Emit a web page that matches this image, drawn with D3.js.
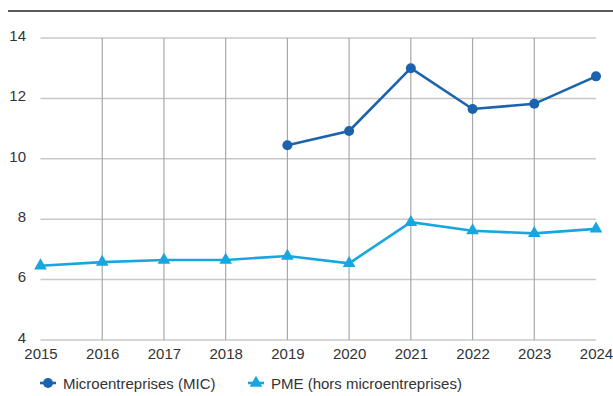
<!DOCTYPE html>
<html>
<head>
<meta charset="utf-8">
<script src="https://cdn.jsdelivr.net/npm/d3@7"></script>
<style>
  html, body { margin: 0; padding: 0; background: #fff; }
  svg { display: block; font-family: "Liberation Sans", Arial, sans-serif; }
</style>
</head>
<body>
<svg id="chart" width="613" height="396"></svg>
<script>
// Années et séries (en %)
const years = [2015, 2016, 2017, 2018, 2019, 2020, 2021, 2022, 2023, 2024];
const micValues = [null, null, null, null, 10.45, 10.92, 13.0, 11.65, 11.82, 12.73];
const pmeValues = [6.46, 6.58, 6.65, 6.65, 6.78, 6.54, 7.9, 7.62, 7.53, 7.68];
const yTicks = [4, 6, 8, 10, 12, 14];
const seriesNames = ["Microentreprises (MIC)", "PME (hors microentreprises)"];

const svg = d3.select("#chart");
const margin = { left: 40.5, right: 17, top: 38, bottom: 56 };
const W = 613, H = 396;
const fontSize = 15;

const x = d3.scaleLinear().domain([2015, 2024]).range([margin.left, W - margin.right]);
const y = d3.scaleLinear().domain([4, 14]).range([H - margin.bottom, margin.top]);

// Filet supérieur
svg.append("line")
  .attr("x1", 8).attr("x2", W).attr("y1", 11).attr("y2", 11)
  .attr("stroke", "#5a5a5a").attr("stroke-width", 2);

// Quadrillage horizontal
svg.append("g").selectAll("line").data(yTicks).join("line")
  .attr("x1", x(2015)).attr("x2", x(2024))
  .attr("y1", d => y(d)).attr("y2", d => y(d))
  .attr("stroke", "#c8c8c8").attr("stroke-width", 1.5);

// Quadrillage vertical
svg.append("g").selectAll("line").data(years.slice(1, -1)).join("line")
  .attr("x1", d => x(d)).attr("x2", d => x(d))
  .attr("y1", y(14)).attr("y2", y(4))
  .attr("stroke", "#a8a8a8").attr("stroke-width", 1.2);

// Axe des ordonnées
const yAxis = d3.axisLeft(y).tickValues(yTicks).tickSize(0).tickPadding(0).tickFormat(d3.format("d"));
const gy = svg.append("g").attr("transform", `translate(26,-2.5)`).call(yAxis);
gy.select(".domain").remove();
gy.selectAll("text").attr("font-size", fontSize).attr("fill", "#333").attr("font-family", null);

// Axe des abscisses
const xAxis = d3.axisBottom(x).tickValues(years).tickSize(0).tickPadding(0).tickFormat(d3.format("d"));
const gx = svg.append("g").attr("transform", `translate(0,${y(4) + 8})`).call(xAxis);
gx.select(".domain").remove();
gx.selectAll("text").attr("font-size", fontSize).attr("fill", "#333").attr("font-family", null);

const micColor = "#1b63ad";
const pmeColor = "#17a6e0";
const tri = d3.symbol().type(d3.symbolTriangle).size(70);

// Série PME
const pme = years.map((yr, i) => ({ yr, v: pmeValues[i] })).filter(d => d.v != null);
svg.append("path").datum(pme)
  .attr("fill", "none").attr("stroke", pmeColor).attr("stroke-width", 2.6)
  .attr("d", d3.line().x(d => x(d.yr)).y(d => y(d.v)));
svg.append("g").selectAll("path").data(pme).join("path")
  .attr("d", tri).attr("fill", pmeColor)
  .attr("transform", d => `translate(${x(d.yr)},${y(d.v)})`);

// Série MIC
const mic = years.map((yr, i) => ({ yr, v: micValues[i] })).filter(d => d.v != null);
svg.append("path").datum(mic)
  .attr("fill", "none").attr("stroke", micColor).attr("stroke-width", 2.6)
  .attr("d", d3.line().x(d => x(d.yr)).y(d => y(d.v)));
svg.append("g").selectAll("circle").data(mic).join("circle")
  .attr("cx", d => x(d.yr)).attr("cy", d => y(d.v)).attr("r", 5)
  .attr("fill", micColor);

// Légende
const legendY = 383;
const lg = svg.append("g");
lg.append("line").attr("x1", 40).attr("x2", 56).attr("y1", legendY).attr("y2", legendY)
  .attr("stroke", micColor).attr("stroke-width", 2.6);
lg.append("circle").attr("cx", 48).attr("cy", legendY).attr("r", 5).attr("fill", micColor);
lg.append("text").attr("x", 63).attr("y", legendY + 5.5).attr("font-size", fontSize).attr("fill", "#333")
  .text(seriesNames[0]);
lg.append("line").attr("x1", 248).attr("x2", 264).attr("y1", legendY).attr("y2", legendY)
  .attr("stroke", pmeColor).attr("stroke-width", 2.6);
lg.append("path").attr("d", tri).attr("fill", pmeColor).attr("transform", `translate(256,${legendY})`);
lg.append("text").attr("x", 271).attr("y", legendY + 5.5).attr("font-size", fontSize).attr("fill", "#333")
  .text(seriesNames[1]);
</script>
</body>
</html>
